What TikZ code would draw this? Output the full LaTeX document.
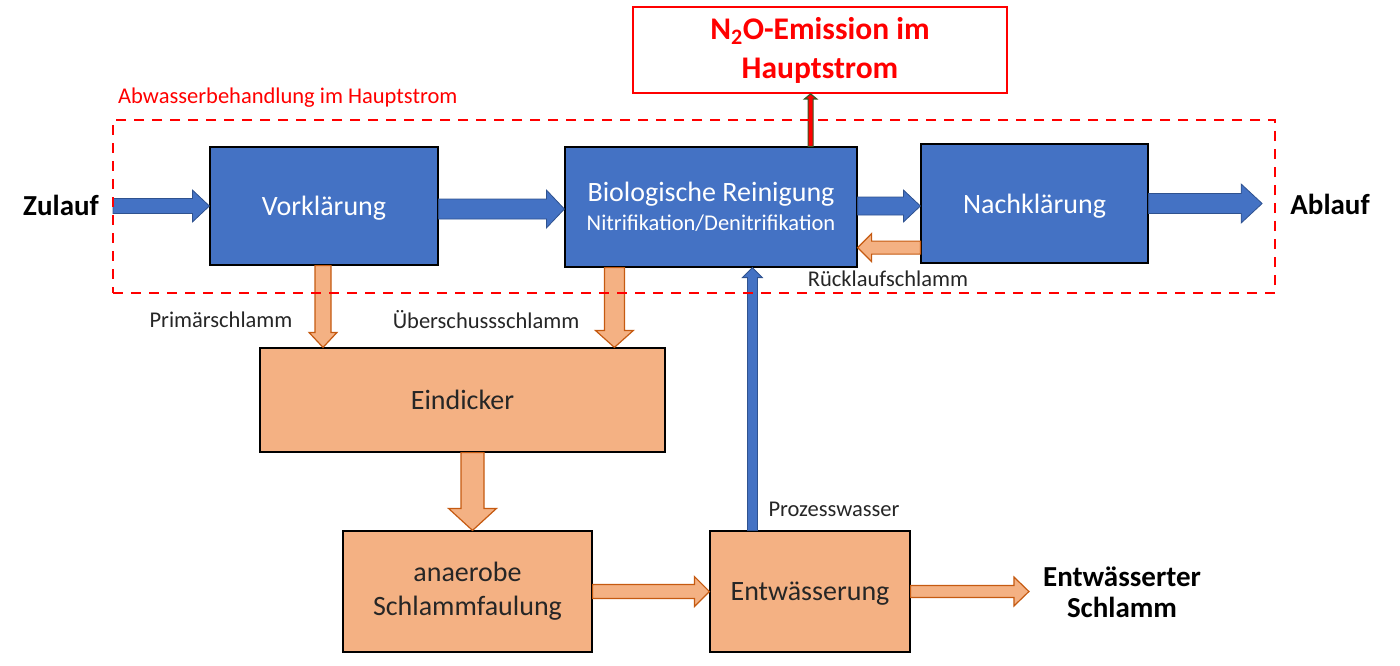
\documentclass[tikz,border=0pt]{standalone}
\usepackage{fontspec}
\setmainfont{Carlito}
\usepackage{tikz}
\usetikzlibrary{calc, positioning}

\definecolor{boxblue}{HTML}{4472C4}
\definecolor{blueedge}{HTML}{2F528F}
\definecolor{sludge}{HTML}{F4B183}
\definecolor{sludgeedge}{HTML}{C55A11}
\definecolor{emisgreen}{HTML}{385723}

\tikzset{
  mainbox/.style={draw=black, line width=1.2pt, fill=boxblue, text=white, align=center, inner sep=0pt, font=\fontsize{28}{34}\selectfont},
  sludgebox/.style={draw=black, line width=1.2pt, fill=sludge, text=black!85, align=center, inner sep=0pt, font=\fontsize{28}{34}\selectfont},
  oneline/.style={text depth=0pt},
  emisbox/.style={draw=red, line width=1.8pt, fill=white, text=red, align=center, font=\bfseries\fontsize{31.5}{39}\selectfont},
  flowlabel/.style={inner sep=0pt, text=black!85, font=\fontsize{22.5}{27}\selectfont},
  endlabel/.style={inner sep=0pt, align=center, font=\bfseries\fontsize{29}{31}\selectfont},
  waterarrow/.style={fill=boxblue, draw=blueedge, line width=0.8pt},
  sludgearrow/.style={fill=sludge, draw=sludgeedge, line width=1.2pt},
  emisarrow/.style={fill=red, draw=emisgreen, line width=1.2pt},
}

% block arrow: [style]{from}{to}{half shaft}{half head}{head length}
\newcommand{\blockarrow}[6][]{%
  \coordinate (tip base) at ($(#3)!#6!(#2)$);
  \filldraw[#1] ($(#2)!#4!90:(#3)$) -- ($(tip base)!#4!90:(#3)$) -- ($(tip base)!#5!90:(#3)$)
    -- (#3) -- ($(tip base)!#5!-90:(#3)$) -- ($(tip base)!#4!-90:(#3)$)
    -- ($(#2)!#4!-90:(#3)$) -- cycle;
}

\begin{document}
\begin{tikzpicture}[x=1pt, y=-1pt]
    \useasboundingbox (0,0) rectangle (1400,665);

    % Main stream
    \node[mainbox, oneline, minimum width=228pt, minimum height=118pt] (vor) at (324,206) {Vorklärung};
    \node[mainbox, minimum width=292pt, minimum height=120pt] (bio) at (711,207)
        {Biologische Reinigung\\[-5pt]{\fontsize{22.5}{27}\selectfont Nitrifikation/Denitrifikation}};
    \node[mainbox, oneline, minimum width=227pt, minimum height=119pt] (nach) at (1034.5,203.5) {Nachklärung};
    \node[emisbox, minimum width=374pt, minimum height=86pt] (n2o) at (820,50)
        {N\textsubscript{2}O-Emission im\\Hauptstrom};

    % Sludge line
    \node[sludgebox, minimum width=405pt, minimum height=104pt] (eind) at (462.5,400) {Eindicker};
    \node[sludgebox, minimum width=249pt, minimum height=121pt] (faul) at (467.5,591.5) {anaerobe\\Schlammfaulung};
    \node[sludgebox, oneline, minimum width=200pt, minimum height=121pt] (entw) at (810,591.5) {Entwässerung};

    % Labels
    \node[endlabel] (zulauf) at (61,205) {Zulauf};
    \node[endlabel] (ablauf) at (1330,204) {Ablauf};
    \node[endlabel] (schlamm) at (1122,592) {Entwässerter\\Schlamm};
    \node[flowlabel, text=red, anchor=west] (hauptlabel) at (118,98) {Abwasserbehandlung im Hauptstrom};
    \node[flowlabel] (primlabel) at (221,320) {Primärschlamm};
    \node[flowlabel] (ueblabel) at (486,320) {Überschussschlamm};
    \node[flowlabel] (ruelabel) at (888,279) {Rücklaufschlamm};
    \node[flowlabel] (prozlabel) at (834,509) {Prozesswasser};

    % Water arrows
    \coordinate (zulA) at (113,206);
    \blockarrow[waterarrow]{zulA}{vor.west}{7.5pt}{16pt}{17pt}
    \coordinate (vorA) at ([yshift=-3pt]vor.east);
    \coordinate (vorB) at (vorA -| bio.west);
    \blockarrow[waterarrow]{vorA}{vorB}{10pt}{19pt}{18pt}
    \coordinate (bioA) at ([yshift=1pt]bio.east);
    \coordinate (bioB) at (bioA -| nach.west);
    \blockarrow[waterarrow]{bioA}{bioB}{9pt}{16pt}{17pt}
    \coordinate (abA) at ([xshift=-28pt]ablauf.west);
    \coordinate (abB) at (nach.east -| abA);
    \blockarrow[waterarrow]{nach.east}{abB}{10pt}{19.5pt}{21pt}
    \coordinate (prozA) at ([xshift=43pt]entw.north west);
    \coordinate (prozB) at (prozA |- bio.south);
    \blockarrow[waterarrow]{prozA}{prozB}{5pt}{10pt}{10pt}

    % Emission arrow
    \coordinate (emA) at ([xshift=-47pt]bio.north east);
    \coordinate (emB) at (emA |- n2o.south);
    \blockarrow[emisarrow]{emA}{emB}{2.5pt}{6pt}{5pt}

    % Sludge arrows
    \coordinate (rueA) at ([yshift=16pt]nach.south west);
    \coordinate (rueB) at (rueA -| bio.east);
    \blockarrow[sludgearrow]{rueA}{rueB}{6.5pt}{14pt}{14pt}
    \coordinate (primA) at ([xshift=-1pt]vor.south);
    \coordinate (primB) at (primA |- eind.north);
    \blockarrow[sludgearrow]{primA}{primB}{8pt}{14pt}{15pt}
    \coordinate (uebA) at ([xshift=50pt]bio.south west);
    \coordinate (uebB) at (uebA |- eind.north);
    \blockarrow[sludgearrow]{uebA}{uebB}{10pt}{19pt}{17pt}
    \coordinate (eindA) at ([xshift=10pt]eind.south);
    \coordinate (eindB) at (eindA |- faul.north);
    \blockarrow[sludgearrow]{eindA}{eindB}{11.5pt}{24pt}{22pt}
    \coordinate (faulB) at (faul.east -| entw.west);
    \blockarrow[sludgearrow]{faul.east}{faulB}{7pt}{15pt}{15pt}
    \coordinate (entwA) at ([xshift=-14pt]schlamm.west);
    \coordinate (entwB) at (entw.east -| entwA);
    \blockarrow[sludgearrow]{entw.east}{entwB}{6pt}{14.5pt}{15pt}

    % Main stream frame
    \node[draw=red, dashed, dash pattern=on 10pt off 8pt, line width=1.5pt, inner sep=0pt,
        minimum width=1162pt, minimum height=173pt] (haupt) at (694,206.5) {};

\end{tikzpicture}
\end{document}
